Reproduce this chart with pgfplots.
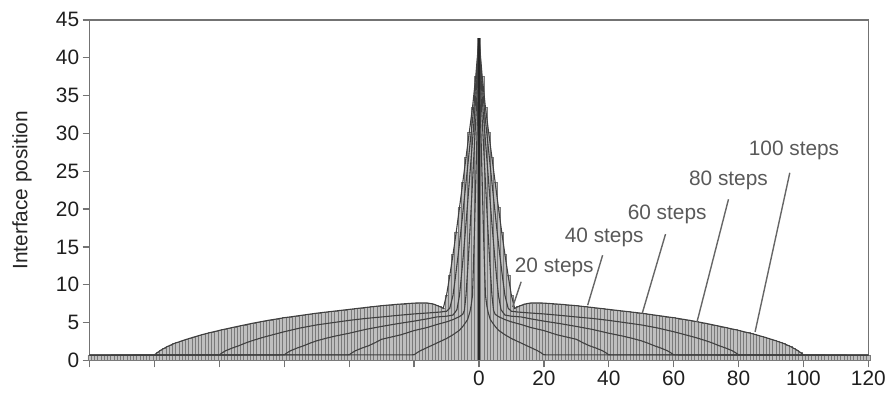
\documentclass[border=0pt]{standalone}
\usepackage{pgfplots}
\usepackage{pgfplotstable}
\pgfplotsset{compat=1.18}
\usepackage{fontspec}
\setmainfont{Liberation Sans}

\pgfplotstableread{
x y
0 42.6
1 37.5
2 33.4
3 30.1
4 26.8
5 23.5
6 20.2
7 17.0
8 14.0
9 11.2
10 8.6
11 6.9
12 7.1
13 7.3
14 7.45
15 7.55
16 7.6
17 7.62
18 7.62
19 7.6
20 7.58
21 7.55
22 7.52
23 7.49
24 7.46
25 7.43
26 7.4
27 7.36
28 7.32
29 7.28
30 7.24
31 7.2
32 7.15
33 7.1
34 7.05
35 7.0
36 6.95
37 6.9
38 6.85
39 6.8
40 6.75
41 6.7
42 6.65
43 6.6
44 6.55
45 6.5
46 6.45
47 6.4
48 6.35
49 6.3
50 6.25
51 6.19
52 6.13
53 6.07
54 6.01
55 5.95
56 5.89
57 5.83
58 5.77
59 5.71
60 5.65
61 5.58
62 5.51
63 5.44
64 5.37
65 5.3
66 5.22
67 5.14
68 5.06
69 4.98
70 4.9
71 4.81
72 4.72
73 4.63
74 4.54
75 4.45
76 4.36
77 4.27
78 4.18
79 4.08
80 3.98
81 3.88
82 3.78
83 3.67
84 3.56
85 3.45
86 3.33
87 3.21
88 3.08
89 2.95
90 2.82
91 2.68
92 2.54
93 2.39
94 2.23
95 2.05
96 1.85
97 1.63
98 1.38
99 1.08
100 0.75
101 0.7
102 0.7
103 0.7
104 0.7
105 0.7
106 0.7
107 0.7
108 0.7
109 0.7
110 0.7
111 0.7
112 0.7
113 0.7
114 0.7
115 0.7
116 0.7
117 0.7
118 0.7
119 0.7
120 0.7
}\bars

\pgfplotstableread{
x y
0 42.6
1 37.5
2 33.4
3 30.1
4 26.8
5 23.5
6 20.2
7 17.0
8 14.0
9 11.2
10 8.6
11 6.9
12 7.1
14 7.45
16 7.6
18 7.62
20 7.58
25 7.43
30 7.24
35 7.0
40 6.75
45 6.5
50 6.25
55 5.95
60 5.65
65 5.3
70 4.9
75 4.45
80 3.98
85 3.45
88 3.08
91 2.68
94 2.23
96 1.85
98 1.38
99 1.08
100 0.75
120 0.7
}\stepsC

\pgfplotstableread{
x y
0 42.6
0.8 37.5
1.6 33.4
2.4 30.1
3.2 26.8
4 23.5
4.8 20.2
5.6 17.0
6.4 14.0
7.2 11.2
8 8.6
9 6.9
10 6.5
12 6.4
15 6.3
20 6.15
25 5.96
30 5.75
35 5.55
40 5.3
45 5.0
50 4.7
55 4.3
60 3.8
64 3.35
67 3.0
70 2.6
72 2.3
74 1.95
76 1.65
78 1.3
79 1.05
80 0.75
120 0.7
}\stepsE

\pgfplotstableread{
x y
0 42.6
0.6 37.5
1.2 33.4
1.8 30.1
2.4 26.8
3 23.5
3.6 20.2
4.2 17.0
4.8 14.0
5.4 11.2
6 8.6
6.8 6.7
8 6.0
10 5.85
13 5.75
16 5.5
20 5.2
25 4.87
30 4.5
35 4.1
40 3.6
44 3.25
47 2.95
50 2.6
52 2.3
54 1.95
56 1.65
58 1.3
59 1.05
60 0.75
120 0.7
}\stepsS

\pgfplotstableread{
x y
0 42.6
0.4 37.5
0.8 33.4
1.2 30.1
1.6 26.8
2 23.5
2.4 20.2
2.8 17.0
3.2 14.0
3.6 11.2
4 8.6
4.5 6.6
5 6.1
6 5.8
8 5.4
10 5.1
13 4.75
16 4.35
20 3.95
24 3.4
27 3.1
30 2.8
32 2.35
34 1.95
36 1.65
38 1.3
39 1.05
40 0.75
120 0.7
}\stepsF

\pgfplotstableread{
x y
0 42.6
0.2 37.5
0.4 33.4
0.6 30.1
0.8 26.8
1 23.5
1.2 20.2
1.4 17.0
1.6 14.0
1.8 11.2
2 8.6
2.4 7.3
2.8 6.4
3.5 5.4
4.8 4.6
6 4.0
8 3.4
10 2.9
12 2.5
14 2.1
16 1.7
18 1.3
19 1.05
20 0.75
120 0.7
}\stepsT

\begin{document}
\begin{tikzpicture}
\begin{axis}[
  scale only axis,
  width=782bp, height=342bp,
  xmin=-120, xmax=120, ymin=0, ymax=45,
  xtick={-120,-100,...,120},
  xticklabels={,,,,,,0,20,40,60,80,100,120},
  ytick={0,5,...,45},
  tick align=outside,
  tick pos=left,
  major tick length=7bp,
  axis line style={draw=black!55, line width=1.6bp},
  tick style={draw=black!55, line width=1.3bp},
  ticklabel style={font=\fontsize{21}{24}\selectfont, text=black!88},
  /pgf/number format/assume math mode=true,
  ylabel={Interface position},
  every axis y label/.style={at={(axis description cs:0,0.5)}, xshift=-68bp, rotate=90, anchor=center, font=\fontsize{21}{24}\selectfont, text=black!85},
  clip=false,
]
% bars (envelope)
\addplot[ybar, bar width=1, bar shift=0pt, fill=black!25, draw=black!52, line width=0.5bp] table[x=x, y=y] {\bars};
\addplot[ybar, bar width=1, bar shift=0pt, fill=black!25, draw=black!52, line width=0.5bp] table[x expr=-\thisrow{x}, y=y] {\bars};
% curves
\pgfplotsset{curve/.style={black!75, line width=1.1bp, no markers}}
\addplot[curve] table[x=x, y=y] {\stepsC};
\addplot[curve] table[x expr=-\thisrow{x}, y=y] {\stepsC};
\addplot[curve] table[x=x, y=y] {\stepsE};
\addplot[curve] table[x expr=-\thisrow{x}, y=y] {\stepsE};
\addplot[curve] table[x=x, y=y] {\stepsS};
\addplot[curve] table[x expr=-\thisrow{x}, y=y] {\stepsS};
\addplot[curve] table[x=x, y=y] {\stepsF};
\addplot[curve] table[x expr=-\thisrow{x}, y=y] {\stepsF};
\addplot[curve] table[x=x, y=y] {\stepsT};
\addplot[curve] table[x expr=-\thisrow{x}, y=y] {\stepsT};
\addplot[black!85, line width=1.2bp] coordinates {(0,0) (0,42.6)};
% leaders
\pgfplotsset{leader/.style={black!60, line width=1.4bp}}
\addplot[leader] coordinates {(95.8,24.8) (85.1,3.78)};
\addplot[leader] coordinates {(76.9,21.3) (67.2,5.09)};
\addplot[leader] coordinates {(57.5,16.7) (50.3,6.2)};
\addplot[leader] coordinates {(38.1,13.9) (33.5,7.3)};
\addplot[leader] coordinates {(13.0,10.4) (10.4,7.07)};
\begin{scope}[every node/.style={font=\fontsize{21}{24}\selectfont, text=black!65, inner sep=0pt}]
\node at (axis cs:97.1,27.7) {100 steps};
\node at (axis cs:76.9,23.8) {80 steps};
\node at (axis cs:58.0,19.3) {60 steps};
\node at (axis cs:38.6,16.3) {40 steps};
\node at (axis cs:23.2,12.3) {20 steps};
\end{scope}
\end{axis}
\path (current axis.south west) +(-90bp,-38bp) (current axis.north east) +(17bp,20bp);
\end{tikzpicture}
\end{document}
